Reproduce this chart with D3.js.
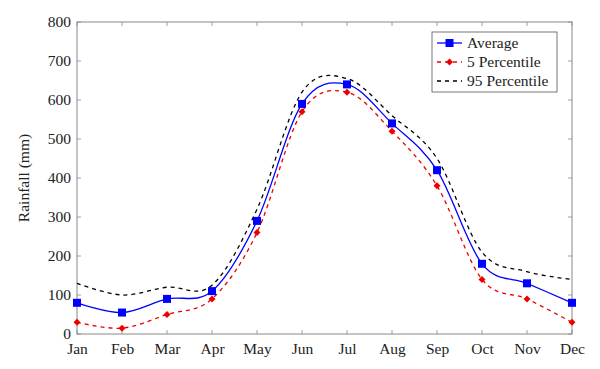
<!DOCTYPE html>
<html><head><meta charset="utf-8">
<script src="https://cdn.jsdelivr.net/npm/d3@7"></script>
<style>body{margin:0;background:#fff}svg{display:block}svg text{font-family:"Liberation Serif","Times New Roman",serif !important;fill:#222}</style>
</head><body><svg id="c" width="600" height="369"></svg>
<script>
const months = ["Jan","Feb","Mar","Apr","May","Jun","Jul","Aug","Sep","Oct","Nov","Dec"];
const average = [80,55,90,110,290,590,640,540,420,180,130,80];
const p5 = [30,15,50,90,260,570,620,520,380,140,90,30];
const p95 = [130,100,120,125,320,620,655,560,450,210,160,140];
const yTicks = [0,100,200,300,400,500,600,700,800];
const seriesNames = ["Average","5 Percentile","95 Percentile"];

const svg = d3.select("#c");
const L=77,R=572,T=22,B=334;
const x = d3.scalePoint().domain(months).range([L,R]);
const y = d3.scaleLinear().domain([0,800]).range([B,T]);
const axisCol="#888";

svg.append("rect").attr("x",L).attr("y",T).attr("width",R-L).attr("height",B-T)
  .attr("fill","none").attr("stroke",axisCol).attr("stroke-width",1);

const tl=4;
const gx = svg.append("g").attr("stroke",axisCol).attr("stroke-width",0.8);
months.forEach(m=>{
  gx.append("line").attr("x1",x(m)).attr("x2",x(m)).attr("y1",B).attr("y2",B-tl);
  gx.append("line").attr("x1",x(m)).attr("x2",x(m)).attr("y1",T).attr("y2",T+tl);
});
yTicks.forEach(v=>{
  gx.append("line").attr("x1",L).attr("x2",L+tl).attr("y1",y(v)).attr("y2",y(v));
  gx.append("line").attr("x1",R).attr("x2",R-tl).attr("y1",y(v)).attr("y2",y(v));
});

const xa = svg.append("g").attr("transform",`translate(0,${B})`)
  .call(d3.axisBottom(x).tickSize(0).tickPadding(9));
xa.select(".domain").remove();
xa.selectAll("text").attr("font-size",15.5);
const ya = svg.append("g").attr("transform",`translate(${L},0)`)
  .call(d3.axisLeft(y).tickValues(yTicks).tickSize(0).tickPadding(6));
ya.select(".domain").remove();
ya.selectAll("text").attr("font-size",15.5);

svg.append("text").attr("transform","translate(29,178) rotate(-90)")
  .attr("text-anchor","middle").attr("font-size",15.5).text("Rainfall (mm)");

const line = d3.line().x((d,i)=>x(months[i])).y(d=>y(d)).curve(d3.curveCardinal.tension(0));
const diamond = (cx,cy,s)=>`M${cx},${cy-s}L${cx+s},${cy}L${cx},${cy+s}L${cx-s},${cy}Z`;

svg.append("path").attr("d",line(p95)).attr("fill","none").attr("stroke","#000")
  .attr("stroke-width",1.3).attr("stroke-dasharray","4,4");
svg.append("path").attr("d",line(p5)).attr("fill","none").attr("stroke","#e00")
  .attr("stroke-width",1.3).attr("stroke-dasharray","4,4");
svg.append("g").selectAll("path").data(p5).join("path")
  .attr("d",(d,i)=>diamond(x(months[i]),y(d),3.5)).attr("fill","#e00");
svg.append("path").attr("d",line(average)).attr("fill","none").attr("stroke","#00f")
  .attr("stroke-width",1.3);
svg.append("g").selectAll("rect").data(average).join("rect")
  .attr("x",(d,i)=>x(months[i])-4).attr("y",d=>y(d)-4).attr("width",8).attr("height",8).attr("fill","#00f");

const lg = svg.append("g");
lg.append("rect").attr("x",432).attr("y",32).attr("width",125).attr("height",60)
  .attr("fill","#fff").attr("stroke","#555").attr("stroke-width",0.8);
const rows=[43,62,81];
const styles=[{c:"#00f",d:null},{c:"#e00",d:"4,4"},{c:"#000",d:"4,4"}];
seriesNames.forEach((n,i)=>{
  const ly=rows[i];
  lg.append("line").attr("x1",437).attr("x2",462).attr("y1",ly).attr("y2",ly)
    .attr("stroke",styles[i].c).attr("stroke-width",1.3).attr("stroke-dasharray",styles[i].d);
  if(i===0) lg.append("rect").attr("x",445.5).attr("y",ly-4).attr("width",8).attr("height",8).attr("fill","#00f");
  if(i===1) lg.append("path").attr("d",diamond(449.5,ly,3.5)).attr("fill","#e00");
  lg.append("text").attr("x",467).attr("y",ly+5).attr("font-size",15.5).text(n);
});
</script></body></html>
